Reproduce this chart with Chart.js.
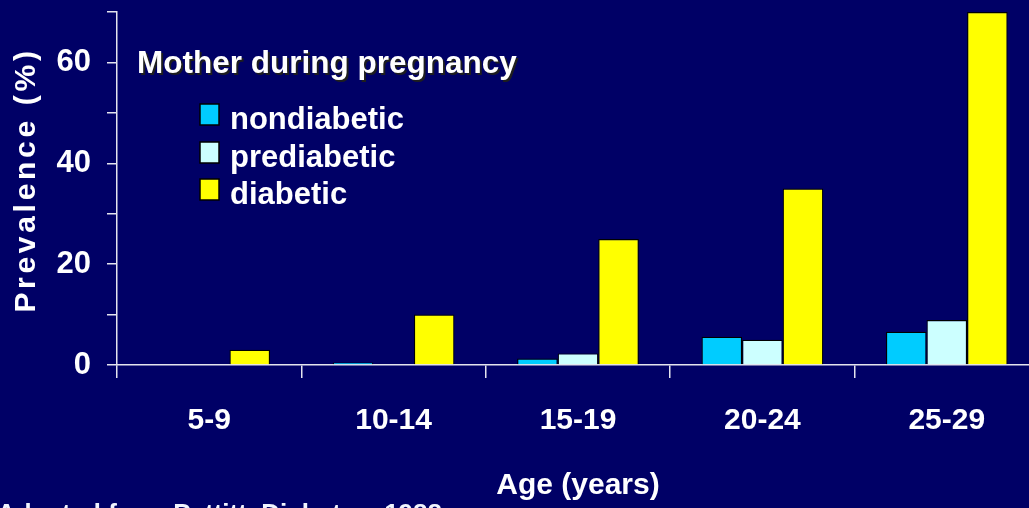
<!DOCTYPE html>
<html><head><meta charset="utf-8">
<script src="https://cdn.jsdelivr.net/npm/chart.js@4.4.1/dist/chart.umd.min.js"></script>
<style>
html,body{margin:0;padding:0;background:#000066;overflow:hidden;width:1029px;height:508px;}
#wrap{position:relative;width:1050px;height:508px;}
canvas{display:block;}
</style></head><body>
<div id="wrap"><canvas id="c" width="1050" height="508"></canvas></div>
<script>
const categories = ['5-9','10-14','15-19','20-24','25-29'];
const seriesNames = ['nondiabetic','prediabetic','diabetic'];
const nondiabetic = [0, 0.5, 1.3, 5.6, 6.6];
const prediabetic = [0, 0, 2.3, 5.0, 8.9];
const diabetic = [3, 10, 25, 35, 70];
const seriesColors = ['#00CCFF','#CCFFFF','#FFFF00'];
const yTickValues = [0,10,20,30,40,50,60,70];
const yTickLabels = ['0','','20','','40','','60',''];
const legendTitle = 'Mother during pregnancy';
const xTitle = 'Age (years)';
const yTitle = 'Prevalence (%)';
const sourceNote = 'Adapted from Pettitt, Diabetes, 1988';

const AXIS = '#e4e4ee';
const SANS = "'Liberation Sans', Arial, Helvetica, sans-serif";

const textPlugin = {
  id: 'texts',
  afterDraw(chart) {
    const ctx = chart.ctx;
    ctx.save();
    // y-axis title
    ctx.fillStyle = '#ffffff';
    ctx.font = 'bold 30px ' + SANS;
    ctx.textBaseline = 'alphabetic';
    ctx.textAlign = 'center';
    ctx.save();
    ctx.translate(35, 180);
    ctx.rotate(-Math.PI/2);
    ctx.letterSpacing = '3.7px';
    ctx.fillText(yTitle, 0, 0);
    ctx.restore();

    // legend
    ctx.textAlign = 'left';
    ctx.save();
    ctx.font = 'bold 31.5px ' + SANS;
    ctx.shadowColor = 'rgba(30,30,30,1)';
    ctx.shadowOffsetX = 2; ctx.shadowOffsetY = 2; ctx.shadowBlur = 0;
    ctx.fillText(legendTitle, 137, 73);
    ctx.restore();
    const ds = chart.data.datasets;
    const baselines = [129, 167, 204];
    ctx.font = 'bold 31px ' + SANS;
    ds.forEach((d, i) => {
      const yb = baselines[i];
      ctx.fillStyle = d.backgroundColor;
      ctx.fillRect(200, yb - 25, 19, 21);
      ctx.strokeStyle = '#000';
      ctx.lineWidth = 1.5;
      ctx.strokeRect(200, yb - 25, 19, 21);
      ctx.fillStyle = '#ffffff';
      ctx.fillText(d.label, 230, yb);
    });

    // source note (cut off at bottom)
    ctx.font = 'bold 26px ' + SANS;
    ctx.fillStyle = '#f0f4ff';
    ctx.fillText(sourceNote, -3, 522);
    ctx.restore();
  }
};

new Chart(document.getElementById('c'), {
  type: 'bar',
  data: {
    labels: categories,
    datasets: [
      { label: seriesNames[0], data: nondiabetic, backgroundColor: seriesColors[0] },
      { label: seriesNames[1], data: prediabetic, backgroundColor: seriesColors[1] },
      { label: seriesNames[2], data: diabetic, backgroundColor: seriesColors[2] }
    ].map(d => Object.assign(d, { borderColor: '#000000', borderWidth: 1.2, categoryPercentage: 0.66, barPercentage: 1.0 }))
  },
  options: {
    responsive: false,
    devicePixelRatio: 1,
    animation: false,
    layout: { padding: { top: 12, right: 11, left: 0, bottom: 0 } },
    plugins: { legend: { display: false }, tooltip: { enabled: false } },
    scales: {
      x: {
        z: 1,
        offset: true,
        grid: { offset: true, drawOnChartArea: false, drawTicks: true, tickLength: 13, color: AXIS, lineWidth: 1.5 },
        border: { display: true, color: AXIS, width: 1.5 },
        ticks: { color: '#ffffff', font: { family: SANS, size: 30, weight: 'bold' }, padding: 25, maxRotation: 0, autoSkip: false },
        title: { display: true, text: xTitle, color: '#ffffff', font: { family: SANS, size: 30, weight: 'bold' }, padding: { top: 4, bottom: 4 } },
        afterFit(s) { s.height = 143; s.paddingLeft = 0; s.paddingRight = 0; }
      },
      y: {
        z: 1,
        min: 0, max: 70,
        afterBuildTicks(s) { s.ticks = yTickValues.map(v => ({ value: v })); },
        grid: { drawOnChartArea: false, drawTicks: true, tickLength: 10, color: AXIS, lineWidth: 1.5 },
        border: { display: true, color: AXIS, width: 1.5 },
        ticks: {
          color: '#ffffff', padding: 16,
          font: { family: SANS, size: 31, weight: 'bold' },
          callback(v) { const i = yTickValues.indexOf(v); return i >= 0 ? yTickLabels[i] : ''; }
        },
        afterFit(s) { s.width = 117; s.paddingTop = 0; s.paddingBottom = 0; }
      }
    }
  },
  plugins: [textPlugin]
});
</script>
</body></html>
